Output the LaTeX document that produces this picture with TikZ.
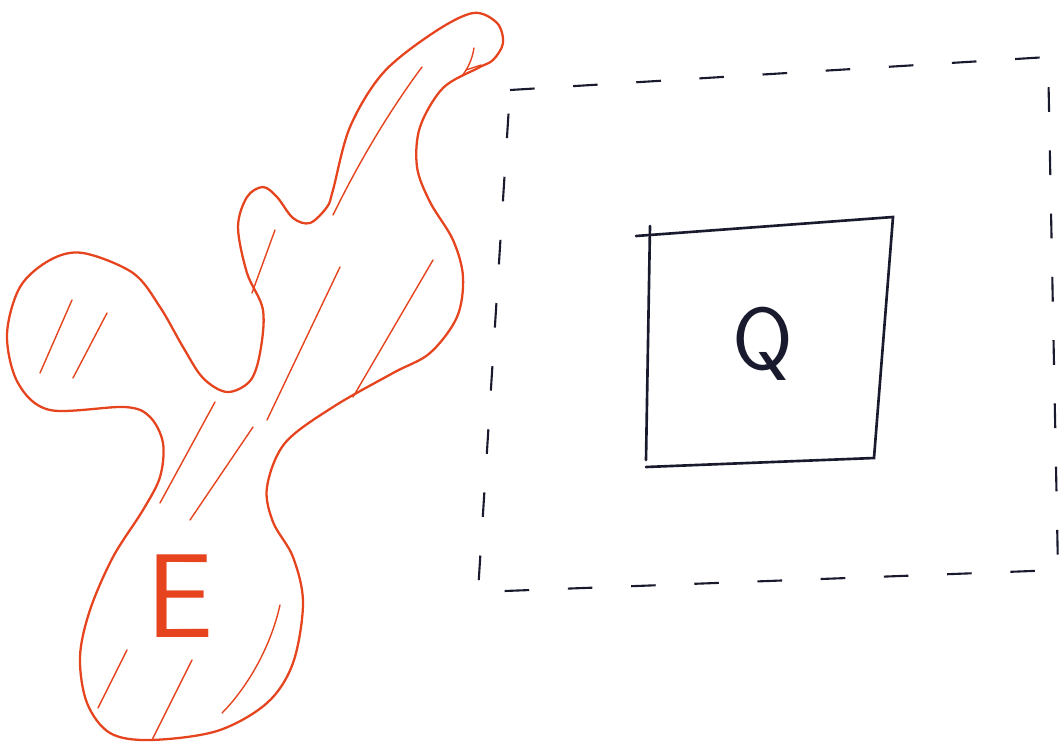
\documentclass[tikz,border=0pt]{standalone}
\usepackage{tikz}
\usepackage{xcolor}
\usetikzlibrary{calc}
\definecolor{SketchRed}{HTML}{E5441E}
\definecolor{SketchInk}{HTML}{1A1A2E}

\begin{document}
\begin{tikzpicture}[x=0.02cm, y=-0.02cm,
    outline/.style={SketchRed, line width=1.3pt, line join=round},
    hatch/.style={SketchRed, line width=0.8pt, line cap=round},
    dashbox/.style={SketchInk, line width=1.2pt, dash pattern=on 14pt off 22pt},
    inkbox/.style={SketchInk, line width=1.5pt, line cap=round}]
  \useasboundingbox (0,0) rectangle (1061,748);
  % red region E
  \draw[outline] plot[smooth cycle, tension=0.55] coordinates {
    (333,190) (350,127) (383,73) (433,33) (473,13) (497,23) (503,43) (493,60)
    (478,68) (443,88) (420,127) (417,167) (430,202) (453,240) (463,277)
    (457,317) (430,353) (393,373) (333,407) (285,443) (267,487) (273,522)
    (293,557) (303,603) (293,663) (267,703) (217,731) (150,740) (110,733)
    (87,703) (80,657) (90,610) (113,557) (143,510) (160,477) (163,443)
    (150,417) (125,407) (50,410) (18,383) (7,335) (20,287) (50,260) (83,253)
    (133,273) (160,307) (183,347) (203,378) (227,392) (250,381) (260,353)
    (263,310) (247,273) (238,227) (247,197) (263,187) (277,197) (293,218)
    (310,223) (327,207)};
  \draw[hatch] (333,215) .. controls (360,160) and (390,110) .. (422,67);
  \draw[hatch] (474,48) .. controls (472,60) and (468,68) .. (462,76);
  \draw[hatch] (466,70) -- (481,65);
  \draw[hatch] (280,605) .. controls (270,650) and (245,690) .. (222,713);
  \foreach \xa/\ya/\xb/\yb in {72/300/40/373, 107/313/73/378, 275/230/252/293,
      340/267/267/420, 433/260/353/397, 215/402/160/503, 253/427/190/520,
      127/650/98/708, 192/660/152/740} {
    \draw[hatch] (\xa,\ya) -- (\xb,\yb);
  }
  \node[text=SketchRed, font=\sffamily\fontsize{68}{68}\selectfont] (labelE) at (180,596) {E};
  % dashed outer square
  \draw[dashbox] (510,90) -- (1048,57) -- (1058,570) -- (478,592) -- cycle;
  % inner square Q
  \draw[inkbox] (636,236) -- (893,217) -- (874,458) -- (646,467);
  \draw[inkbox] (650,226) -- (646,460);
  \node[text=SketchInk, font=\sffamily\fontsize{50}{50}\selectfont] (labelQ) at (763,344) {Q};
\end{tikzpicture}
\end{document}
